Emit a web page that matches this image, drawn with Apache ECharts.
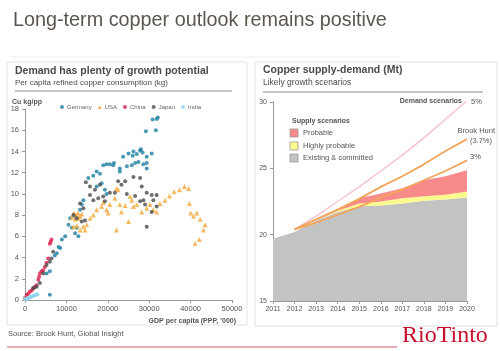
<!DOCTYPE html>
<html>
<head>
<meta charset="utf-8">
<script src="https://cdn.jsdelivr.net/npm/echarts/dist/echarts.min.js"></script>
<style>
  html, body { margin: 0; padding: 0; background: #fff; }
  #main { width: 500px; height: 351px; }
</style>
</head>
<body>
<div id="main"></div>
<script>
// left chart: per capita consumption, [GDP per capita, kg]
var germany = [
  [30800, 17.0], [31800, 17.05], [32100, 17.2], [29200, 15.9], [31600, 16.0],
  [26000, 13.6], [27000, 13.75], [28000, 14.2], [28400, 13.9], [23700, 13.5],
  [25000, 13.8], [26200, 14.0], [27800, 14.1], [29400, 13.5], [30600, 13.8],
  [29400, 12.9], [29400, 12.4], [26600, 12.9], [24600, 12.6], [25800, 12.7],
  [22900, 12.1], [22900, 12.4], [21300, 12.7], [18900, 12.7], [19700, 12.8],
  [20500, 12.8], [21500, 12.9], [17300, 12.1], [18100, 11.9], [16500, 11.7],
  [15300, 11.5], [18500, 11.0], [19300, 10.4], [19700, 10.0], [17300, 10.7],
  [14100, 9.4], [13700, 9.0], [13300, 8.5], [12100, 7.9], [10900, 7.7],
  [10500, 7.1], [11300, 6.8], [12500, 6.8], [12900, 6.0], [12100, 6.3],
  [9700, 6.0], [8900, 5.7], [8100, 5.0], [8500, 4.9], [7700, 4.4],
  [7200, 4.2], [6000, 2.7], [5200, 2.5], [6000, 0.5], [27400, 13.0], [28600, 12.8]
];
var usa = [
  [11300, 7.8], [11800, 8.2], [12300, 8.0], [12800, 8.2], [13300, 7.9],
  [13700, 8.1], [12100, 7.6], [12900, 7.7], [11700, 6.9], [12500, 7.0],
  [13300, 6.6], [14100, 6.9], [14500, 6.6], [14900, 7.1], [15700, 7.7],
  [16500, 8.0], [17300, 8.5], [18500, 8.8], [18900, 9.2], [19700, 8.5],
  [20500, 9.0], [21700, 9.6], [22100, 10.5], [22500, 10.4], [22100, 6.6],
  [23300, 8.3], [24200, 8.9], [25000, 7.4], [25400, 9.75], [25800, 9.4],
  [26200, 8.8], [27000, 9.0], [28200, 8.3], [29400, 8.65], [30200, 9.0],
  [31000, 8.5], [31800, 8.3], [32600, 9.1], [33800, 9.4], [34900, 9.8],
  [36000, 10.2], [37300, 10.4], [38500, 10.7], [39500, 10.5], [39700, 9.1],
  [40000, 8.2], [40700, 7.9], [41500, 8.2], [42300, 7.6], [43500, 7.1],
  [43100, 6.6], [42100, 5.7], [41100, 5.35], [22900, 9.0], [20100, 8.2]
];
var china = [
  [0, 0.2], [400, 0.5], [800, 0.6], [1200, 0.8], [1600, 0.9], [2000, 1.1],
  [2400, 1.25], [2800, 1.4], [3200, 1.9], [3400, 2.2], [3600, 2.5], [4000, 2.7],
  [4400, 2.8], [4800, 3.1], [5200, 3.5], [5600, 3.9], [6000, 5.3], [6200, 5.5], [6400, 5.7]
];
var japan = [
  [14700, 11.1], [15700, 10.7], [16900, 10.4], [18100, 10.85], [15700, 9.9],
  [16500, 9.4], [17700, 9.6], [18900, 9.75], [20500, 10.1], [21700, 10.1],
  [22500, 11.2], [24200, 11.2], [23300, 10.85], [26200, 11.6], [27800, 11.5],
  [28200, 10.7], [29400, 10.1], [30600, 9.9], [31800, 9.9], [31000, 9.4],
  [28600, 9.4], [27800, 9.3], [29000, 9.0], [30600, 8.3], [13300, 9.1],
  [14100, 8.65], [12500, 7.7], [13700, 7.4], [14500, 7.5], [29400, 6.9],
  [31800, 8.8], [2000, 1.1], [2800, 1.25], [3600, 1.6], [4400, 2.5],
  [5200, 3.3], [6000, 3.6], [6400, 3.9], [6800, 4.55], [11700, 8.0],
  [24600, 10.0], [26600, 9.8], [19300, 9.3]
];
var india = [
  [0, 0.1], [300, 0.1], [600, 0.15], [900, 0.2], [1200, 0.25], [1500, 0.3],
  [1800, 0.35], [2100, 0.4], [2400, 0.45], [2700, 0.5], [3000, 0.55]
];

// right chart: supply-demand (Mt)
var years = ['2011', '2012', '2013', '2014', '2015', '2016', '2017', '2018', '2019', '2020'];
var existing = [19.7, 20.2, 21.05, 21.7, 22.15, 22.2, 22.35, 22.55, 22.65, 22.8];
var highlyProbable = [0, 0, 0, 0.1, 0.2, 0.3, 0.4, 0.35, 0.35, 0.45];
var probable = [0, 0, 0, 0.15, 0.4, 0.6, 0.75, 1.2, 1.4, 1.6];
var demand5 = [null, 20.4, 21.4, 22.5, 23.6, 24.8, 26.0, 27.3, 28.7, 30.1];
var brookHunt = [null, 20.4, 21.15, 21.9, 22.7, 23.6, 24.4, 25.3, 26.3, 27.2];
var demand3 = [null, 20.4, 20.9, 21.5, 22.1, 22.8, 23.4, 24.1, 24.8, 25.6];

var FONT = '"Liberation Sans", Arial, sans-serif';
var axisGrey = '#9a9a9a';
var labelCol = '#555';

var chart = echarts.init(document.getElementById('main'));

// text placed by its anchor point (x, y = vertical middle)
function txt(x, y, s, size, opts) {
  opts = opts || {};
  return {
    type: 'text', x: x, y: y, z: 100,
    style: {
      text: s, fill: opts.color || '#555', fontSize: size,
      fontWeight: opts.bold ? 'bold' : 'normal',
      fontFamily: opts.font || FONT,
      align: opts.align || 'left', verticalAlign: opts.valign || 'middle'
    }
  };
}

function plain(v) { return String(v); }

var option = {
  animation: false,
  backgroundColor: '#fff',
  textStyle: { fontFamily: FONT },
  grid: [
    { left: 25, right: 268, top: 109, bottom: 51 },
    { left: 273, right: 33, top: 102, bottom: 50 }
  ],
  legend: {
    left: 55, top: 99, itemWidth: 4, itemHeight: 4, itemGap: 6,
    textStyle: { fontSize: 6, color: '#666', fontFamily: FONT, padding: [0, 0, 0, -2] },
    data: [
      { name: 'Germany', icon: 'circle' },
      { name: 'USA', icon: 'triangle' },
      { name: 'China', icon: 'circle' },
      { name: 'Japan', icon: 'circle' },
      { name: 'India', icon: 'circle' }
    ]
  },
  xAxis: [
    {
      gridIndex: 0, type: 'value', min: 0, max: 50000, interval: 10000,
      axisLine: { show: true, lineStyle: { color: axisGrey } },
      axisTick: { show: true, length: 3, lineStyle: { color: axisGrey } },
      axisLabel: { fontSize: 7.5, color: labelCol, margin: 5, formatter: plain },
      splitLine: { show: false }
    },
    {
      gridIndex: 1, type: 'category', data: years, boundaryGap: false,
      axisLine: { show: true, lineStyle: { color: axisGrey } },
      axisTick: { show: true, length: 3, alignWithLabel: true, lineStyle: { color: axisGrey } },
      axisLabel: { fontSize: 7, color: labelCol, margin: 5, interval: 0 },
      splitLine: { show: false }
    }
  ],
  yAxis: [
    {
      gridIndex: 0, type: 'value', min: 0, max: 18, interval: 2,
      axisLine: { show: true, lineStyle: { color: axisGrey } },
      axisTick: { show: true, length: 3, lineStyle: { color: axisGrey } },
      axisLabel: { fontSize: 7.5, color: labelCol, margin: 6 },
      splitLine: { show: false }
    },
    {
      gridIndex: 1, type: 'value', min: 15, max: 30, interval: 5,
      axisLine: { show: true, lineStyle: { color: axisGrey } },
      axisTick: { show: true, length: 3, lineStyle: { color: axisGrey } },
      axisLabel: { fontSize: 7, color: labelCol, margin: 6 },
      splitLine: { show: false }
    }
  ],
  series: [
    { name: 'Germany', type: 'scatter', xAxisIndex: 0, yAxisIndex: 0, data: germany,
      symbol: 'circle', symbolSize: 4, itemStyle: { color: '#1f7fa3' } },
    { name: 'USA', type: 'scatter', xAxisIndex: 0, yAxisIndex: 0, data: usa,
      symbol: 'triangle', symbolSize: 5, itemStyle: { color: '#f2a93b' } },
    { name: 'China', type: 'scatter', xAxisIndex: 0, yAxisIndex: 0, data: china,
      symbol: 'circle', symbolSize: 4, itemStyle: { color: '#d41f4f' } },
    { name: 'Japan', type: 'scatter', xAxisIndex: 0, yAxisIndex: 0, data: japan,
      symbol: 'circle', symbolSize: 4, itemStyle: { color: '#4b4b4b' } },
    { name: 'India', type: 'scatter', xAxisIndex: 0, yAxisIndex: 0, data: india,
      symbol: 'circle', symbolSize: 4, itemStyle: { color: '#8fd3ee' } },

    { name: 'Existing & committed', type: 'line', xAxisIndex: 1, yAxisIndex: 1, stack: 'supply',
      data: existing, symbol: 'none', lineStyle: { width: 0 },
      areaStyle: { color: '#c3c3c3', opacity: 1 } },
    { name: 'Highly probable', type: 'line', xAxisIndex: 1, yAxisIndex: 1, stack: 'supply',
      data: highlyProbable, symbol: 'none', lineStyle: { width: 0 },
      areaStyle: { color: '#fbfa8e', opacity: 1 } },
    { name: 'Probable', type: 'line', xAxisIndex: 1, yAxisIndex: 1, stack: 'supply',
      data: probable, symbol: 'none', lineStyle: { width: 0 },
      areaStyle: { color: '#f88a8a', opacity: 1 } },

    { name: '5%', type: 'line', xAxisIndex: 1, yAxisIndex: 1, data: demand5,
      symbol: 'none', lineStyle: { color: '#f6c3cf', width: 1.5 } },
    { name: 'Brook Hunt', type: 'line', xAxisIndex: 1, yAxisIndex: 1, data: brookHunt,
      symbol: 'none', lineStyle: { color: '#f2a55a', width: 1.8 } },
    { name: '3%', type: 'line', xAxisIndex: 1, yAxisIndex: 1, data: demand3,
      symbol: 'none', lineStyle: { color: '#f2a55a', width: 1.8 } }
  ],
  graphic: [
    // slide title
    txt(13, 21, 'Long-term copper outlook remains positive', 19.8, { color: '#5c5650' }),
    { type: 'line', shape: { x1: 10, y1: 57, x2: 400, y2: 57 }, style: { stroke: '#f1ede4', lineWidth: 1 } },

    // panels
    { type: 'rect', shape: { x: 7, y: 62, width: 240, height: 263 },
      style: { fill: 'none', stroke: '#e2e2e2', lineWidth: 1 }, z: -1 },
    { type: 'rect', shape: { x: 255, y: 62, width: 242, height: 264 },
      style: { fill: 'none', stroke: '#e2e2e2', lineWidth: 1 }, z: -1 },

    // left panel header
    txt(15, 71, 'Demand has plenty of growth potential', 10.5, { bold: true, color: '#4a4a4a' }),
    txt(15, 83, 'Per capita refined copper consumption (kg)', 8, { color: '#4a4a4a' }),
    { type: 'line', shape: { x1: 15, y1: 91, x2: 232, y2: 91 }, style: { stroke: '#8a8a8a', lineWidth: 1 } },
    txt(12, 102, 'Cu kg/pp', 7, { bold: true, color: '#555' }),
    txt(236, 321, 'GDP per capita (PPP, \u2019000)', 7, { bold: true, color: '#555', align: 'right' }),

    // right panel header
    txt(263, 70, 'Copper supply-demand (Mt)', 10.5, { bold: true, color: '#4a4a4a' }),
    txt(263, 83, 'Likely growth scenarios', 8.5, { color: '#4a4a4a' }),
    { type: 'line', shape: { x1: 263, y1: 92, x2: 483, y2: 92 }, style: { stroke: '#8a8a8a', lineWidth: 1 } },

    // supply legend
    txt(292, 121, 'Supply scenarios', 7, { bold: true, color: '#555' }),
    { type: 'rect', shape: { x: 290, y: 129, width: 8, height: 8 }, style: { fill: '#f88a8a', stroke: '#999', lineWidth: 0.8 }, z: 100 },
    { type: 'rect', shape: { x: 290, y: 142, width: 8, height: 8 }, style: { fill: '#fbfa8e', stroke: '#999', lineWidth: 0.8 }, z: 100 },
    { type: 'rect', shape: { x: 290, y: 154, width: 8, height: 8 }, style: { fill: '#c3c3c3', stroke: '#999', lineWidth: 0.8 }, z: 100 },
    txt(303, 133, 'Probable', 7.5, { color: '#555' }),
    txt(303, 146, 'Highly probable', 7.5, { color: '#555' }),
    txt(303, 158, 'Existing & committed', 7.5, { color: '#555' }),

    // demand labels
    txt(462, 101, 'Demand scenarios', 7, { bold: true, color: '#555', align: 'right' }),
    txt(471, 102, '5%', 7.5, { color: '#555' }),
    txt(495, 131, 'Brook Hunt', 7.5, { color: '#555', align: 'right' }),
    txt(492, 141, '(3.7%)', 7.5, { color: '#555', align: 'right' }),
    txt(470, 157, '3%', 7.5, { color: '#555' }),

    // footer
    txt(8, 334, 'Source: Brook Hunt, Global Insight', 7.5, { color: '#555' }),
    { type: 'line', shape: { x1: 7, y1: 347, x2: 397, y2: 347 }, style: { stroke: '#d35a6a', lineWidth: 1 } },
    txt(402, 348, 'RioTinto', 24, { color: '#c8102e', valign: 'bottom', font: '"Liberation Serif", "DejaVu Serif", serif' })
  ]
};

chart.setOption(option);
</script>
</body>
</html>
